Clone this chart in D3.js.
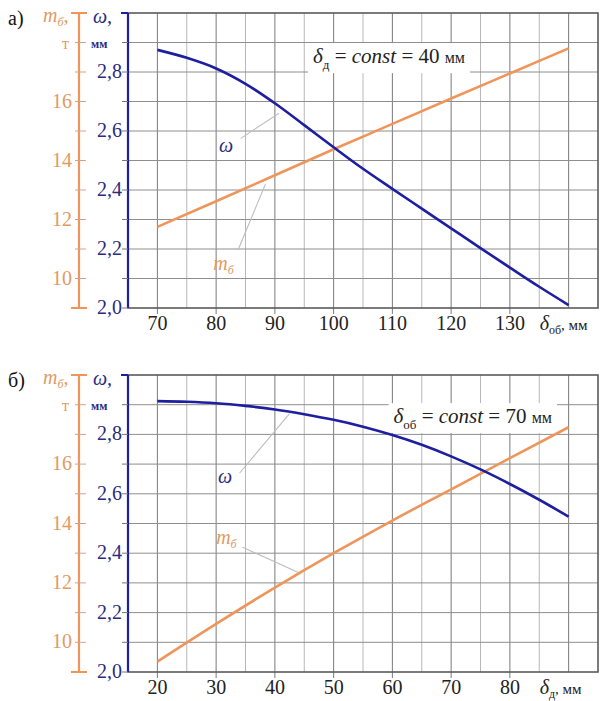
<!DOCTYPE html>
<html><head><meta charset="utf-8">
<script src="https://cdn.jsdelivr.net/npm/d3@7"></script>
</head>
<body style="margin:0">
<svg id="c" width="603" height="701" font-family="Times New Roman"></svg>
<script>
// ---- data ----
const xTop = [70,75,80,85,90,95,100,105,110,115,120,125,130,135,140];
const omegaTop = [2.875,2.848,2.812,2.76,2.694,2.62,2.545,2.472,2.404,2.337,2.27,2.203,2.137,2.072,2.01];
const mTopX = [70,80,90,100,110,120,130,140];
const mTop = [11.75,12.62,13.5,14.38,15.24,16.1,16.95,17.8];
const xTopTicks = [70,80,90,100,110,120,130];

const xBot = [20,25,30,35,40,45,50,55,60,65,70,75,80,85,90];
const omegaBot = [2.912,2.910,2.905,2.896,2.884,2.868,2.849,2.826,2.798,2.765,2.726,2.682,2.633,2.58,2.523];
const mBotX = [20,30,40,50,60,70,80,90];
const mBot = [9.35,10.62,11.84,13.0,14.1,15.15,16.2,17.24];
const xBotTicks = [20,30,40,50,60,70,80];

const omegaTicks = [2.0,2.2,2.4,2.6,2.8];
const mTicks = [10,12,14,16];

const BLUE = "#1e1ea0", ORANGE = "#ef955a", BLUE_T = "#2b2b80", ORANGE_T = "#e19a63";
const SERIF = "Times New Roman";

const svg = d3.select("#c");
function txt(sel){ return sel.append("text").attr("font-family", SERIF); }

function panel(o){
  const L = 128, W = 470, T = o.top, H = o.height;
  const x = d3.scaleLinear().domain(o.xDomain).range([L, L+W]);
  const yw = d3.scaleLinear().domain([2.0,3.0]).range([T+H, T]);
  const ym = d3.scaleLinear().domain([9,19]).range([T+H, T]);
  const g = svg.append("g");

  // grid
  const xs = d3.range(o.xDomain[0]+5, o.xDomain[1], 5);
  g.selectAll(".vx").data(xs).join("line")
    .attr("x1", d=>x(d)).attr("x2", d=>x(d))
    .attr("y1", T).attr("y2", T+H)
    .attr("stroke", d => (d % 10 === 0) ? "#7a7a7a" : "#b8b8b8")
    .attr("stroke-width", 1);
  g.selectAll(".ty").data(o.xTicks).join("line")
    .attr("x1", d=>x(d)).attr("x2", d=>x(d))
    .attr("y1", T+H).attr("y2", T+H+6)
    .attr("stroke", "#7a7a7a");
  const hs = d3.range(1,10).map(i => 2 + i/10);
  g.selectAll(".hy").data(hs).join("line")
    .attr("x1", L).attr("x2", L+W)
    .attr("y1", d=>yw(d)).attr("y2", d=>yw(d))
    .attr("stroke", "#8e8e8e").attr("stroke-width", 1);
  g.append("rect").attr("x", L).attr("y", T).attr("width", W).attr("height", H)
    .attr("fill","none").attr("stroke","#5a5a5a").attr("stroke-width",1.6);

  // blue axis
  g.append("line").attr("x1",L).attr("x2",L).attr("y1",T).attr("y2",T+H)
    .attr("stroke",BLUE).attr("stroke-width",2.2);
  g.append("line").attr("x1",L-7).attr("x2",L).attr("y1",T).attr("y2",T)
    .attr("stroke",BLUE).attr("stroke-width",2);
  g.selectAll(".wt").data(d3.range(0,10).map(i=>2+i/10)).join("line")
    .attr("x1",L-6).attr("x2",L).attr("y1",d=>yw(d)).attr("y2",d=>yw(d))
    .attr("stroke","#777").attr("stroke-width",1);
  omegaTicks.forEach(d => txt(g).attr("x", L-6).attr("y", yw(d)+6).attr("text-anchor","end")
    .attr("font-size",20).attr("fill",BLUE_T)
    .text(d3.format(".1f")(d).replace(".", ",")));
  txt(g).attr("x",L-35).attr("y",T+10).attr("font-size",20)
    .attr("font-style","italic").attr("fill",BLUE_T).text("ω,");
  txt(g).attr("x",L-37).attr("y",yw(2.9)+5).attr("font-size",12)
    .attr("font-weight","bold").attr("fill",BLUE_T).text("мм");

  // orange axis
  const OX = 79;
  g.append("line").attr("x1",OX).attr("x2",OX).attr("y1",T).attr("y2",T+H)
    .attr("stroke",ORANGE).attr("stroke-width",2.2);
  [T, T+H].forEach(yy => g.append("line").attr("x1",OX-8).attr("x2",OX+8)
    .attr("y1",yy).attr("y2",yy).attr("stroke",ORANGE).attr("stroke-width",2));
  g.selectAll(".mt").data(d3.range(10,19)).join("line")
    .attr("x1",OX-4).attr("x2",OX+7).attr("y1",d=>ym(d)).attr("y2",d=>ym(d))
    .attr("stroke","#cfa58a").attr("stroke-width",1);
  mTicks.forEach(d => txt(g).attr("x", OX-7).attr("y", ym(d)+6).attr("text-anchor","end")
    .attr("font-size",20).attr("fill",ORANGE_T).text(d));
  const mt = txt(g).attr("x",OX-36).attr("y",T+9).attr("font-size",20)
    .attr("font-style","italic").attr("fill",ORANGE_T);
  mt.append("tspan").text("m");
  mt.append("tspan").attr("font-size",12).attr("dy",4).text("б");
  mt.append("tspan").attr("dy",-4).attr("font-style","normal").text(",");
  txt(g).attr("x",OX-17).attr("y",ym(18)+6).attr("font-size",16)
    .attr("fill",ORANGE_T).text("т");

  txt(g).attr("x",8).attr("y",T+12).attr("font-size",20).attr("fill","#111").text(o.label);

  // x tick labels
  o.xTicks.forEach(d => txt(g).attr("x", x(d)).attr("y", T+H+22).attr("text-anchor","middle")
    .attr("font-size",20).attr("fill","#222").text(d));
  const xt = txt(g).attr("x", x(o.xDomain[1]-5)-29).attr("y", T+H+22)
    .attr("font-size",20).attr("fill","#222");
  xt.append("tspan").attr("font-style","italic").text("δ");
  xt.append("tspan").attr("font-size",12).attr("dy",4).text(o.xSub);
  xt.append("tspan").attr("font-size",15).attr("dy",-4).text(", мм");

  // leader lines
  o.leaders.forEach(l => g.append("line")
    .attr("x1",x(l[0])).attr("y1",yw(l[1])).attr("x2",x(l[2])).attr("y2",yw(l[3]))
    .attr("stroke","#bdbdbd").attr("stroke-width",1.1));

  // curves
  const lw = d3.line().x((d,i)=>x(o.xs[i])).y(d=>yw(d)).curve(d3.curveMonotoneX);
  const lm = d3.line().x((d,i)=>x(o.mx[i])).y(d=>ym(d)).curve(d3.curveMonotoneX);
  g.append("path").attr("d", lm(o.m)).attr("fill","none").attr("stroke",ORANGE).attr("stroke-width",2.6);
  g.append("path").attr("d", lw(o.w)).attr("fill","none").attr("stroke",BLUE).attr("stroke-width",2.6);

  // curve labels
  txt(g).attr("x",x(o.wLab[0])).attr("y",yw(o.wLab[1])).attr("font-size",20)
    .attr("font-style","italic").attr("fill",BLUE_T).text("ω");
  const ml = txt(g).attr("x",x(o.mLab[0])).attr("y",yw(o.mLab[1])).attr("font-size",20)
    .attr("font-style","italic").attr("fill",ORANGE_T);
  ml.append("tspan").text("m");
  ml.append("tspan").attr("font-size",12).attr("dy",4).text("б");

  // const annotation
  const a = o.note;
  const nt = txt(g).attr("x",x(a.x)).attr("y",yw(a.y)).attr("font-size",21).attr("fill","#222");
  nt.append("tspan").attr("font-style","italic").text("δ");
  nt.append("tspan").attr("font-size",13).attr("dy",6).text(a.sub);
  nt.append("tspan").attr("dy",-6).text(" = ");
  nt.append("tspan").attr("font-style","italic").text("const");
  nt.append("tspan").text(" = " + a.val + " ");
  nt.append("tspan").attr("font-size",16).text("мм");
  const bb = nt.node().getBBox();
  g.insert("rect", "text").attr("x",bb.x-5).attr("y",bb.y-1).attr("width",bb.width+10).attr("height",bb.height+2)
    .attr("fill","#fff");
}

panel({
  top: 13, height: 295, xDomain: [65,145], xTicks: xTopTicks, xSub: "об", label: "а)",
  xs: xTop, w: omegaTop, mx: mTopX, m: mTop,
  wLab: [80.5, 2.53], mLab: [79.5, 2.13],
  leaders: [[84.2,2.575,90.7,2.66],[83.8,2.2,88.4,2.42]],
  note: {x: 96.5, y: 2.83, sub: "д", val: 40}
});
panel({
  top: 375, height: 297, xDomain: [15,95], xTicks: xBotTicks, xSub: "д", label: "б)",
  xs: xBot, w: omegaBot, mx: mBotX, m: mBot,
  wLab: [30.3, 2.635], mLab: [30, 2.43],
  leaders: [[34,2.67,42.5,2.87],[34.5,2.42,44,2.335]],
  note: {x: 60.2, y: 2.838, sub: "об", val: 70}
});
</script>
</body></html>
